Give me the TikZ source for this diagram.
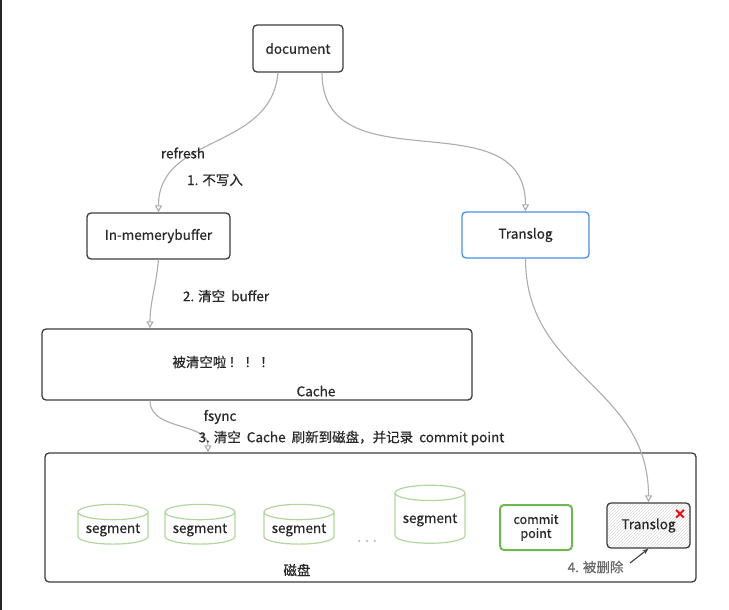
\documentclass[tikz,border=0pt]{standalone}
\usepackage{fontspec}
\setmainfont{Noto Sans CJK SC}[FakeBold=0.6]
\usetikzlibrary{shapes.geometric,patterns,arrows.meta}
\definecolor{edgegray}{RGB}{172,172,172}
\definecolor{boxgray}{RGB}{60,60,60}
\definecolor{tlogblue}{RGB}{70,145,235}
\definecolor{seggreen}{RGB}{175,215,155}
\definecolor{cpgreen}{RGB}{110,185,80}
\definecolor{txtgray}{RGB}{40,40,40}
\tikzset{
  box/.style={draw=boxgray, line width=1.3pt, rounded corners=4pt, text=txtgray, align=center},
  seg/.style={cylinder, shape border rotate=90, draw=seggreen, line width=1.2pt, aspect=0.25, text=txtgray, minimum width=70pt, minimum height=39pt},
  flow/.style={draw=edgegray, line width=1.1pt, -{Triangle[open, length=7pt, width=7pt]}},
  lbl/.style={text=txtgray}
}
\begin{document}
\begin{tikzpicture}[x=1pt, y=-1pt, font=\fontsize{13.5}{16}\selectfont]
	\useasboundingbox (0,0) rectangle (729,610);
	\draw[line width=1.5pt, black!85] (0.75,0) -- (0.75,610);
	% top part
	\node[box, minimum width=90pt, minimum height=47pt] (doc) at (298,48.5) {document};
	\node[box, minimum width=143pt, minimum height=46pt] (buf) at (158.5,236) {In-memerybuffer};
	\node[box, draw=tlogblue, minimum width=127pt, minimum height=46pt] (tlog) at (525.5,235) {Translog};
	\node[box, minimum width=430pt, minimum height=71pt] (cache) at (257,364.5) {};
	\node[lbl] (cleared) at (223,362) {被清空啦\,！\,！\,！};
	\node[lbl] (cachename) at (316,391) {Cache};
	% disk
	\node[box, minimum width=651pt, minimum height=129pt] (disk) at (370.5,517.5) {};
	\node[lbl] (diskname) at (297,570) {磁盘};
	\node[seg] (seg1) at (113,530) {segment};
	\node[seg] (seg2) at (200,530) {segment};
	\node[seg] (seg3) at (299,530) {segment};
	\node[text=edgegray] (dots) at (367,541) {. . .};
	\node[seg, minimum height=58pt] (seg4) at (430,520) {segment};
	\node[box, draw=cpgreen, line width=2pt, minimum width=72pt, minimum height=45pt, font=\fontsize{12.5}{14}\selectfont] (cp) at (536,527.5) {commit\\point};
	\node[box, pattern=north east lines, pattern color=black!15, minimum width=83pt, minimum height=45pt] (tlogdisk) at (648.5,525.5) {Translog};
	\node[text=red, font=\bfseries\fontsize{13}{13}\selectfont] (cross) at (680,514) {×};
	\node[text=black!60, anchor=east] (deleted) at (627,567) {4. 被删除};
	\coordinate (delarrow) at (630,563);
	\draw[line width=1.1pt, black!75, -{Stealth[length=6pt]}] (delarrow) -- (tlogdisk.south);
	% connectors
	\draw[flow] ([xshift=-20pt]doc.south) to[out=-95, in=90, looseness=1.1] (buf.north);
	\draw[flow] ([xshift=24pt]doc.south) to[out=-90, in=90, looseness=1.2] (tlog.north);
	\draw[flow] (buf.south) to[out=-95, in=90] ([xshift=-107pt]cache.north);
	\draw[flow] ([xshift=-107pt]cache.south) to[out=-90, in=90] ([xshift=-162.5pt]disk.north);
	\draw[flow] (tlog.south) to[out=-90, in=90, looseness=1.1] (tlogdisk.north);
	% labels
	\node[lbl] (refresh) at (183,153) {refresh};
	\node[lbl] (step1) at (215,180) {1. 不写入};
	\node[lbl] (step2) at (226,296) {2. 清空\ \ buffer};
	\node[lbl] (fsync) at (220,417) {fsync};
	\node[lbl, anchor=west] (step3) at (195,438) {3. 清空\ \ Cache\ \ 刷新到磁盘，并记录\ \ commit point};
\end{tikzpicture}
\end{document}
